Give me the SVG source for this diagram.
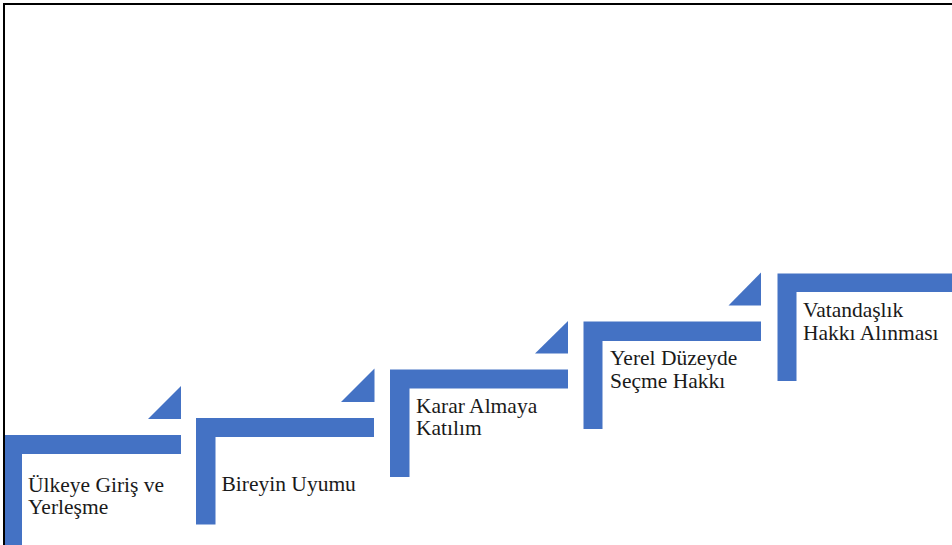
<svg xmlns="http://www.w3.org/2000/svg" width="952" height="545" viewBox="0 0 952 545">
<style>
.step{fill:#4472C4}
.lbl{font-family:"Liberation Serif","Times New Roman",serif;font-size:21.5px;fill:#1a1a1a}
</style>
<rect x="0" y="0" width="952" height="545" fill="#ffffff"/>
<path d="M4 545 V4 H952" fill="none" stroke="#000" stroke-width="2"/>
<g id="step1">
<path class="step" d="M5 435 H181 V454 H22 V545 H5 Z"/>
<polygon class="step" points="148,419 181,419 181,386"/>
<text class="lbl" x="28" y="492">Ülkeye Giriş ve</text>
<text class="lbl" x="28" y="514">Yerleşme</text>
</g>
<g id="step2">
<path class="step" d="M196 418 H374 V437 H215.5 V524.5 H196 Z"/>
<polygon class="step" points="341,402 374.5,402 374.5,368.5"/>
<text class="lbl" x="221.5" y="491">Bireyin Uyumu</text>
</g>
<g id="step3">
<path class="step" d="M390 369.5 H568 V388.5 H409.5 V477 H390 Z"/>
<polygon class="step" points="535,353.5 568,353.5 568,321"/>
<text class="lbl" x="416" y="413">Karar Almaya</text>
<text class="lbl" x="416" y="435">Katılım</text>
</g>
<g id="step4">
<path class="step" d="M583.5 321.5 H761 V341 H602.5 V429 H583.5 Z"/>
<polygon class="step" points="728.5,305.5 761,305.5 761,272.5"/>
<text class="lbl" x="610" y="364.5">Yerel Düzeyde</text>
<text class="lbl" x="610" y="387.5">Seçme Hakkı</text>
</g>
<g id="step5">
<path class="step" d="M777.5 273.5 H952 V292 H796.5 V381 H777.5 Z"/>
<text class="lbl" x="803" y="317">Vatandaşlık</text>
<text class="lbl" x="803" y="340">Hakkı Alınması</text>
</g>
<g id="connectors"></g>
</svg>
